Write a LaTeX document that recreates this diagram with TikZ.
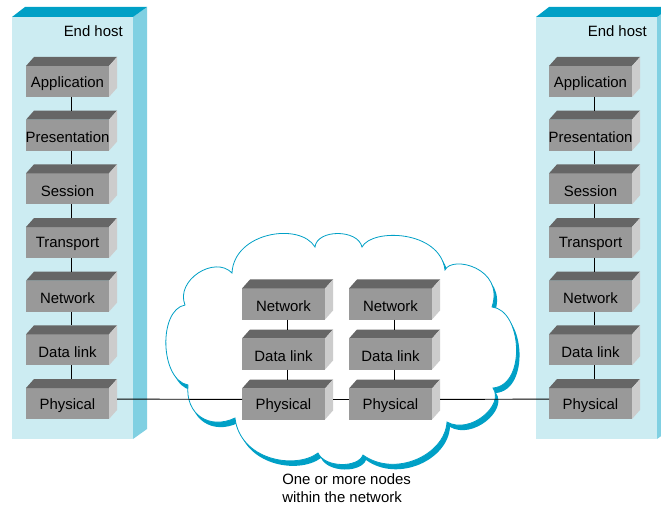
\documentclass[tikz,border=0pt]{standalone}
\usepackage{fontspec}
\newfontfamily\arialf{Liberation Sans}
\definecolor{hostfront}{RGB}{204,236,242}
\definecolor{hosttop}{RGB}{0,160,198}
\definecolor{hostside}{RGB}{128,208,226}
\definecolor{cloudblue}{RGB}{0,160,198}
\definecolor{lfront}{RGB}{153,153,153}
\definecolor{ltop}{RGB}{102,102,102}
\definecolor{lside}{RGB}{204,204,204}
\tikzset{
  txt/.style={font=\arialf\fontsize{11.2}{13.5}\selectfont, text=black, inner sep=0pt},
  layer/.style={rectangle, minimum width=68.25pt, minimum height=30pt, inner sep=0pt, outer sep=0pt,
    path picture={
      \fill[lfront] (path picture bounding box.south west) rectangle ([shift={(62.25pt,23.25pt)}]path picture bounding box.south west);
      \fill[ltop] ([shift={(0pt,23.25pt)}]path picture bounding box.south west) -- ([shift={(62.25pt,23.25pt)}]path picture bounding box.south west) -- ([shift={(68.25pt,30pt)}]path picture bounding box.south west) -- ([shift={(6pt,30pt)}]path picture bounding box.south west) -- cycle;
      \fill[lside] ([shift={(62.25pt,0pt)}]path picture bounding box.south west) -- ([shift={(68.25pt,6.75pt)}]path picture bounding box.south west) -- ([shift={(68.25pt,30pt)}]path picture bounding box.south west) -- ([shift={(62.25pt,23.25pt)}]path picture bounding box.south west) -- cycle;
    }},
  lname/.style={label={[txt, xshift=-3pt, yshift=-4.8pt]center:#1}},
  conn/.style={draw=black, line width=0.7pt},
}
\begin{document}
\begin{tikzpicture}[x=0.75pt, y=-0.75pt]
\useasboundingbox (0,0) rectangle (661,506);
% left host
\fill[hostside] (133,17) -- (147,7) -- (147,429) -- (133,439) -- cycle;
\fill[hosttop] (12,17) -- (25,7) -- (147,7) -- (133,17) -- cycle;
\fill[hostfront] (12,17) rectangle (133,439);
\node[txt, anchor=east] (lhost) at (123,31) {End host};
% right host
\fill[hostside] (657,17) -- (671,7) -- (671,429) -- (657,439) -- cycle;
\fill[hosttop] (536,17) -- (549,7) -- (671,7) -- (657,17) -- cycle;
\fill[hostfront] (536,17) rectangle (657,439);
\node[txt, anchor=east] (rhost) at (647,31) {End host};
% cloud
\def\cloudpath{(232,273) .. controls (234,232) and (300,222) .. (315,247)
  .. controls (317,229) and (358,229) .. (362,247)
  .. controls (372,228) and (440,230) .. (445,270)
  .. controls (452,255) and (505,268) .. (492,307)
  .. controls (522,310) and (527,385) .. (493,388)
  .. controls (505,405) and (470,435) .. (447,422)
  .. controls (445,455) and (395,478) .. (363,455)
  .. controls (358,468) and (325,468) .. (318,453)
  .. controls (295,470) and (240,460) .. (235,418)
  .. controls (210,430) and (185,415) .. (188,385)
  .. controls (160,380) and (158,310) .. (185,305)
  .. controls (175,280) and (215,255) .. (232,273) -- cycle}
\fill[cloudblue, shift={(3,5)}] \cloudpath;
\filldraw[fill=white, draw=cloudblue, line width=0.6pt] \cloudpath;
% layers
\foreach \n/\t [count=\i from 0] in {1/Application,2/Presentation,3/Session,4/Transport,5/Network,6/Data link,7/Physical}{
  \node[layer, lname=\t] (l\n) at (71.5,{77+53.67*\i}) {};
  \node[layer, lname=\t] (r\n) at (594.5,{77+53.67*\i}) {};
}
\foreach \n/\t [count=\i from 0] in {1/Network,2/Data link,3/Physical}{
  \node[layer, lname=\t] (a\n) at (287.5,{299.5+50*\i}) {};
  \node[layer, lname=\t] (b\n) at (394.5,{299.5+50*\i}) {};
}
% connectors
\foreach \u/\v in {1/2,2/3,3/4,4/5,5/6,6/7}{
  \draw[conn] (l\u) -- (l\v);
  \draw[conn] (r\u) -- (r\v);
}
\foreach \u/\v in {1/2,2/3}{
  \draw[conn] (a\u) -- (a\v);
  \draw[conn] (b\u) -- (b\v);
}
\draw[conn] (l7) -- (a3);
\draw[conn] (a3) -- (b3);
\draw[conn] (b3) -- (r7);
% caption
\node[txt, anchor=west, align=left] (cap) at (282,488) {One or more nodes\\within the network};
\end{tikzpicture}
\end{document}
